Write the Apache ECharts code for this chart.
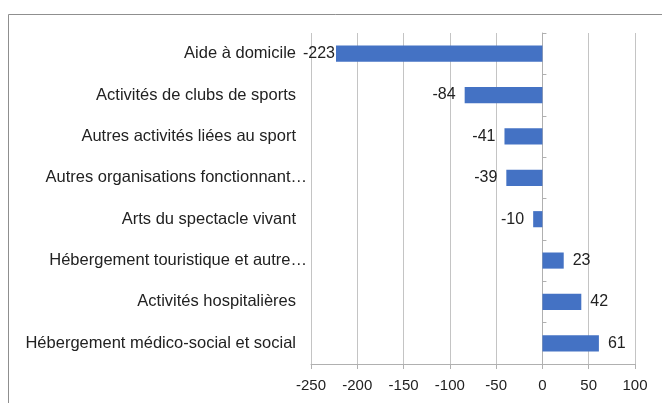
<!DOCTYPE html>
<html><head><meta charset="utf-8">
<script src="https://cdn.jsdelivr.net/npm/echarts@6/dist/echarts.min.js"></script>
<style>html,body{margin:0;padding:0;background:#fff}#c{width:662px;height:403px}</style>
</head><body><div id="c"></div>
<script>
const categories = [
  "Aide à domicile",
  "Activités de clubs de sports",
  "Autres activités liées au sport",
  "Autres organisations fonctionnant…",
  "Arts du spectacle vivant",
  "Hébergement touristique et autre…",
  "Activités hospitalières",
  "Hébergement médico-social et social"
];
const values = [-223, -84, -41, -39, -10, 23, 42, 61];
const xMin = -250, xMax = 100, xStep = 50;

const font = "Liberation Sans";
const chart = echarts.init(document.getElementById('c'), null, {renderer: 'canvas'});
chart.setOption({
  animation: false,
  backgroundColor: '#fff',
  graphic: [{
    type: 'rect', shape: {x: 8.5, y: 14.5, width: 700, height: 500},
    style: {fill: 'none', stroke: '#8f8f8f', lineWidth: 1}, silent: true
  }],
  grid: {left: 311, right: 27, top: 33, bottom: 39, containLabel: false},
  xAxis: {
    type: 'value', min: xMin, max: xMax, interval: xStep,
    axisLine: {show: true, lineStyle: {color: '#b0b0b0'}},
    axisTick: {show: true, length: 5, lineStyle: {color: '#b0b0b0'}},
    splitLine: {show: true, lineStyle: {color: '#c4c4c4'}},
    axisLabel: {color: '#222', fontFamily: font, fontSize: 15, margin: 14}
  },
  yAxis: [{
    type: 'category', data: categories, inverse: true, position: 'left',
    axisLine: {show: false, onZero: false}, axisTick: {show: false},
    axisLabel: {
      margin: 4,
      formatter: v => v.endsWith('…') ? '{e|' + v + '}' : '{n|' + v + '}',
      rich: {
        n: {color: '#222', fontFamily: font, fontSize: 16.5, padding: [0, 11, 0, 0]},
        e: {color: '#222', fontFamily: font, fontSize: 16.5}
      }
    }
  }, {
    type: 'category', data: categories, inverse: true,
    axisLine: {show: true, onZero: true, lineStyle: {color: '#b0b0b0'}},
    axisTick: {show: true, length: 4, lineStyle: {color: '#b0b0b0'}},
    axisLabel: {show: false}
  }],
  series: [{
    type: 'bar', yAxisIndex: 0, barCategoryGap: '61%',
    data: values.map(v => ({
      value: v,
      label: {show: true, position: v < 0 ? 'left' : 'right',
              distance: v <= xMin + 40 ? 1 : 9}
    })),
    itemStyle: {color: '#4472C4'},
    label: {color: '#222', fontFamily: font, fontSize: 16}
  }]
});
</script></body></html>
